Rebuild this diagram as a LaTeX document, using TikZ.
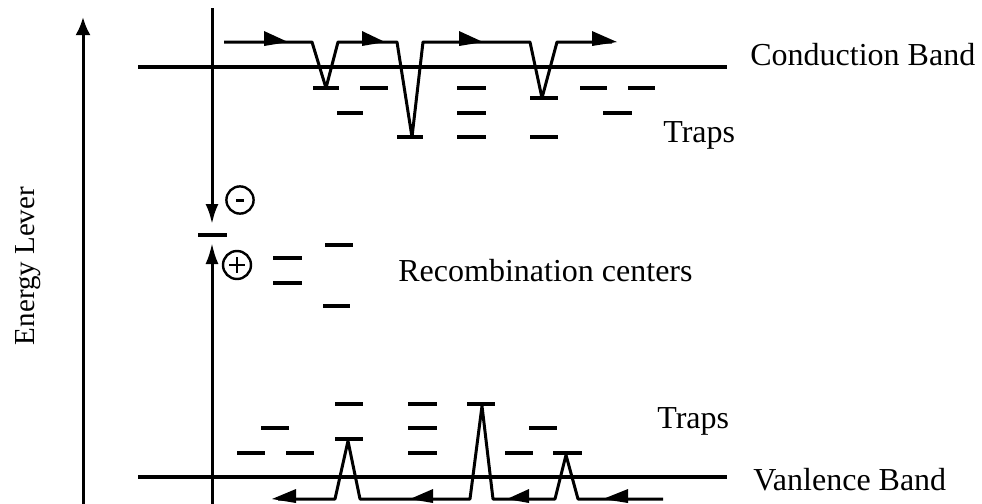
\documentclass[tikz,border=0pt]{standalone}
\usepackage{fontspec}
\setmainfont{Liberation Serif}
\usetikzlibrary{arrows.meta}
\begin{document}
\begin{tikzpicture}[x=0.5pt,y=-0.5pt,
  band/.style={line width=1.6pt},
  lvl/.style={line width=2pt},
  trk/.style={line width=1.5pt,line join=round},
  vline/.style={line width=1.5pt},
  tri/.style={fill=black},
  lbl/.style={inner sep=0pt,font=\fontsize{16}{19}\selectfont},
  sgn/.style={line width=1.2pt}]
\useasboundingbox (0,0) rectangle (982,504);
% energy axis
\draw[vline,-{Latex[length=9pt,width=7.5pt]}] (83,504) -- (83,17);
\node[lbl,rotate=90,anchor=base,font=\fontsize{14.5}{17}\selectfont] (elev) at (34,266) {Energy Lever};
% bands
\draw[band] (138,67) -- (727,67);
\draw[band] (138,477) -- (727,477);
\node[lbl,anchor=base west] (cb) at (750,65) {Conduction Band};
\node[lbl,anchor=base west] (vb) at (753,490) {Vanlence Band};
\node[lbl,anchor=base west] (tr1) at (663,142) {Traps};
\node[lbl,anchor=base west] (tr2) at (657,428) {Traps};
\node[lbl,anchor=base west] (rc) at (398,281) {Recombination centers};
% recombination vertical line
\draw[vline,-{Latex[length=10pt,width=6.5pt]}] (212,8) -- (212,224);
\draw[vline,-{Latex[length=10.5pt,width=6.5pt]}] (212,504) -- (212,243);
\draw[lvl] (198,235) -- (227,235);
% signs
\draw[sgn] (240,200) circle (6.8pt);
\draw[line width=1.5pt] (236,200) -- (244,200);
\draw[sgn] (237,265) circle (7pt);
\draw[line width=1.3pt] (229,265) -- (245,265) (237,257) -- (237,273);
% recombination levels
\draw[lvl] (273,258) -- (302,258) (273,283) -- (302,283)
           (325,245) -- (353,245) (323,306) -- (350,306);
% conduction traps
\draw[lvl] (313,88) -- (339,88) (360,88) -- (388,88) (457,88) -- (486,88)
           (580,88) -- (607,88) (628,88) -- (655,88)
           (530,98) -- (558,98)
           (337,113) -- (363,113) (457,113) -- (486,113) (603,113) -- (632,113)
           (397,137) -- (423,137) (457,137) -- (486,137) (530,137) -- (558,137);
% electron path
\draw[trk] (224,42) -- (312,42) -- (326,88) -- (338,42) -- (397,42) -- (412,137)
  -- (423,42) -- (530,42) -- (542,98) -- (557,42) -- (612,42);
\foreach \b/\t in {264/288, 362/385, 459/483, 592/617}
  \fill[tri] (\b,31) -- (\t,42) -- (\b,46) -- cycle;
% valence traps
\draw[lvl] (335,404) -- (363,404) (408,404) -- (437,404) (467,404) -- (495,404)
           (261,428) -- (289,428) (408,428) -- (437,428) (529,428) -- (557,428)
           (335,439) -- (363,439)
           (237,453) -- (265,453) (286,453) -- (314,453) (408,453) -- (437,453)
           (505,453) -- (533,453) (553,453) -- (582,453);
% hole path
\draw[trk] (663,499) -- (578,499) -- (566,455) -- (555,499) -- (493,499) -- (482,406)
  -- (470,499) -- (360,499) -- (348,441) -- (335,499) -- (278,499);
\foreach \b/\t in {296/272, 433/410, 529/507, 628/603}
  \fill[tri] (\b,489) -- (\t,499) -- (\b,503) -- cycle;
\end{tikzpicture}
\end{document}
